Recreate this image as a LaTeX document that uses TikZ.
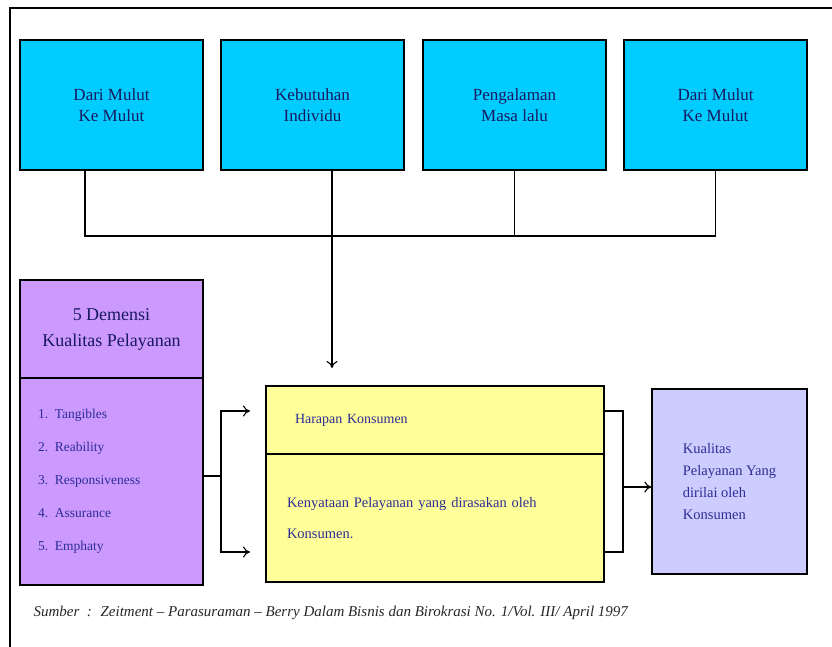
\documentclass[tikz,border=0pt]{standalone}
\usepackage{fontspec}
\setmainfont{Liberation Serif}
\usetikzlibrary{arrows.meta}

\definecolor{boxcyan}{RGB}{0,204,255}
\definecolor{boxpurple}{RGB}{204,153,255}
\definecolor{boxyellow}{RGB}{255,255,153}
\definecolor{boxlav}{RGB}{204,204,255}
\definecolor{txtnavy}{RGB}{25,25,95}
\definecolor{txtblue}{RGB}{45,45,150}

\begin{document}
\begin{tikzpicture}[x=1pt, y=-1pt, >={To[length=7pt,width=11pt]},
    topbox/.style={rectangle, draw, line width=1.3pt, fill=boxcyan, text=txtnavy,
        minimum width=183pt, minimum height=130pt, align=center,
        font=\fontsize{17}{21}\selectfont},
    partbox/.style={rectangle, draw, line width=1.3pt, inner sep=0pt},
    link/.style={line width=1.1pt}]

    \useasboundingbox (0,0) rectangle (832,647);

    % FRAME
    \draw[line width=1.3pt] (10,647) -- (10,8) -- (832,8);

    % TOP FACTORS
    \node[topbox] (mulut1) at (111.5,105) {Dari Mulut\\Ke Mulut};
    \node[topbox] (butuh) at (312.5,105) {Kebutuhan\\Individu};
    \node[topbox] (alami) at (514.5,105) {Pengalaman\\Masa lalu};
    \node[topbox] (mulut2) at (715.5,105) {Dari Mulut\\Ke Mulut};

    % 5 DIMENSIONS
    \node[partbox, fill=boxpurple, text=txtnavy, minimum width=183pt, minimum height=98pt,
        align=center, font=\fontsize{18}{26}\selectfont]
        (dimtitle) at (111.5,329) {5 Demensi\\Kualitas Pelayanan};
    \node[partbox, fill=boxpurple, text=txtblue, minimum width=183pt, minimum height=207pt,
        text width=147pt, align=left, font=\fontsize{13.5}{33}\selectfont]
        (dimlist) at (111.5,481.5)
        {1. Tangibles\\2. Reability\\3. Responsiveness\\4. Assurance\\5. Emphaty};

    % EXPECTATION / REALITY
    \node[partbox, fill=boxyellow, text=txtblue, minimum width=338pt, minimum height=68pt,
        text width=280pt, align=left, font=\fontsize{14}{31}\selectfont]
        (harap) at (435,420) {Harapan Konsumen};
    \node[partbox, fill=boxyellow, text=txtblue, minimum width=338pt, minimum height=128pt,
        text width=296pt, align=left, font=\fontsize{14.5}{31}\selectfont]
        (nyata) at (435,518) {Kenyataan Pelayanan yang dirasakan oleh\\Konsumen.};

    % RESULT
    \node[partbox, fill=boxlav, text=txtblue, minimum width=155pt, minimum height=185pt,
        align=left, font=\fontsize{14.5}{22}\selectfont]
        (hasil) at (729.5,481.5) {Kualitas\\Pelayanan Yang\\dirilai oleh\\Konsumen};

    % SOURCE
    \node[anchor=west, font=\fontsize{15}{17}\selectfont\itshape, text=black!85]
        (sumber) at (30,613)
        {Sumber \ : \ Zeitment -- Parasuraman -- Berry Dalam Bisnis dan Birokrasi No. 1/Vol. III/ April 1997};

    % TOP CONNECTORS
    \coordinate (j1) at (85,236);
    \coordinate (j2) at (332,236);
    \coordinate (j3) at (514.5,236);
    \coordinate (j4) at (715.5,236);
    \draw[link] (j1 |- mulut1.south) -- (j1) -- (j4) -- (mulut2.south);
    \draw[link] (alami.south) -- (j3);
    \draw[link, ->] (j2 |- butuh.south) -- (332,368);

    % FORK TO EXPECTATION / REALITY
    \coordinate (f0) at (221,476);
    \coordinate (fa) at (221,411);
    \coordinate (fb) at (221,552);
    \draw[link] (dimlist.east |- f0) -- (f0);
    \draw[link, ->] (f0) -- (fa) -- (250,411);
    \draw[link, ->] (f0) -- (fb) -- (250,552);

    % BRACKET TO RESULT
    \coordinate (b0) at (623,487);
    \draw[link] (nyata.east |- 0,411) -- (623,411) -- (623,552) -- (nyata.east |- 0,552);
    \draw[link, ->] (b0) -- (hasil.west |- b0);

\end{tikzpicture}
\end{document}
